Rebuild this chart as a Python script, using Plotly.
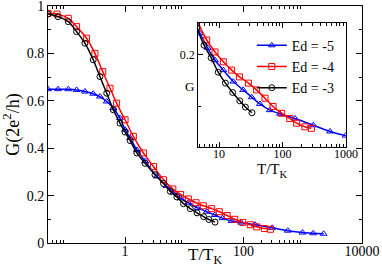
import plotly.graph_objects as go

# ---- data ----
T_m5 = [0.05, 0.074, 0.11, 0.152, 0.21, 0.29, 0.377, 0.49, 0.634, 0.82, 1.0, 1.22, 1.58, 2.18,
        3.44, 5.0, 6.6, 8.65, 11.7, 16.8, 24, 32.7, 44, 63, 91, 157, 305, 560, 990, 1500, 2250]
G_m5 = [0.649, 0.649, 0.649, 0.646, 0.639, 0.630, 0.618, 0.597, 0.569, 0.527, 0.478, 0.443, 0.393, 0.345,
        0.281, 0.241, 0.213, 0.189, 0.170, 0.148, 0.132, 0.118, 0.105, 0.093, 0.086, 0.077, 0.064, 0.052,
        0.044, 0.041, 0.039]

T_m4 = [0.05, 0.071, 0.11, 0.152, 0.224, 0.31, 0.42, 0.557, 0.72, 1.0, 1.38, 2.04, 3.02, 4.46,
        6.4, 8.65, 11.7, 15.8, 21, 29, 39, 53, 71, 97, 130, 167, 225, 285]
G_m4 = [0.969, 0.966, 0.948, 0.913, 0.864, 0.800, 0.723, 0.653, 0.590, 0.520, 0.450, 0.380, 0.323, 0.267,
        0.228, 0.205, 0.186, 0.170, 0.157, 0.145, 0.132, 0.116, 0.100, 0.087, 0.077, 0.068, 0.061, 0.058]

T_m3 = [0.05, 0.074, 0.11, 0.152, 0.21, 0.29, 0.377, 0.49, 0.634, 0.82, 1.0, 1.22, 1.58, 2.18,
        3.2, 4.46, 5.8, 7.5, 9.7, 12.6, 16.4, 21.2, 26, 33]
G_m3 = [0.966, 0.955, 0.934, 0.892, 0.843, 0.773, 0.702, 0.632, 0.562, 0.506, 0.468, 0.432, 0.380, 0.336,
        0.288, 0.251, 0.218, 0.194, 0.166, 0.145, 0.127, 0.111, 0.099, 0.088]

series = [
    ("Ed = -5", T_m5, G_m5, "#0000ff", "triangle-up-open"),
    ("Ed = -4", T_m4, G_m4, "#ff0000", "square-open"),
    ("Ed = -3", T_m3, G_m3, "#000000", "circle-open"),
]

main_major_x = [1, 100, 10000]
main_major_x_text = ["1", "100", "10000"]
main_minor_x = [0.06, 0.07, 0.08, 0.09, 2, 3, 4, 5, 6, 7, 8, 9, 200, 300, 400, 500, 600, 700, 800, 900]
main_major_y = [0, 0.2, 0.4, 0.6, 0.8, 1]
main_major_y_text = ["0", "0.2", "0.4", "0.6", "0.8", "1"]
main_minor_y = [0.1, 0.3, 0.5, 0.7, 0.9]

inset_major_x = [10, 100, 1000]
inset_major_x_text = ["10", "100", "1000"]
inset_minor_x = [5, 6, 7, 8, 9, 20, 30, 40, 50, 60, 70, 80, 90, 200, 300, 400, 500, 600, 700, 800, 900]
inset_major_y = [0.2]
inset_major_y_text = ["0.2"]
inset_minor_y = [0.1]

FONT = "Liberation Serif, Times New Roman, serif"

fig = go.Figure()
for name, T, G, col, sym in series:
    fig.add_trace(go.Scatter(x=T, y=G, name=name, mode="lines+markers",
                             line=dict(color=col, width=1.5, shape="spline", smoothing=0.8),
                             marker=dict(symbol=sym, size=6, color=col, line=dict(width=1, color=col)),
                             xaxis="x", yaxis="y", showlegend=True))
for name, T, G, col, sym in series:
    fig.add_trace(go.Scatter(x=T, y=G, name=name, mode="lines+markers",
                             line=dict(color=col, width=1.5, shape="spline", smoothing=0.8),
                             marker=dict(symbol=sym, size=6, color=col, line=dict(width=1, color=col)),
                             xaxis="x2", yaxis="y2", showlegend=False, cliponaxis=True))

axis_common = dict(showline=True, linecolor="black", linewidth=1, showgrid=False, zeroline=False,
                   ticks="inside", tickcolor="black", tickwidth=1, automargin=False,
                   ticklabeloverflow="allow")

fig.update_layout(
    width=382, height=268,
    margin=dict(l=48, r=20, t=6, b=25, autoexpand=False),
    paper_bgcolor="white", plot_bgcolor="white",
    font=dict(family=FONT, color="black", size=14),
    xaxis=dict(type="log", range=[-1.301, 4.0], domain=[0, 1], mirror="ticks",
               tickmode="array", tickvals=main_major_x, ticktext=main_major_x_text, ticklen=6,
               tickfont=dict(size=14), ticklabelstandoff=-5,
               minor=dict(tickmode="array", tickvals=main_minor_x, ticks="inside", ticklen=3,
                          tickcolor="black"),
               **axis_common),
    yaxis=dict(range=[0, 1], domain=[0, 1], mirror="ticks",
               tickmode="array", tickvals=main_major_y, ticktext=main_major_y_text, ticklen=6,
               tickfont=dict(size=14),
               minor=dict(tickmode="array", tickvals=main_minor_y, ticks="inside", ticklen=3,
                          tickcolor="black"),
               title=dict(text="G(2e<sup>2</sup>/h)", font=dict(size=18), standoff=4),
               **axis_common),
    xaxis2=dict(type="log", range=[0.67, 3.0], domain=[0.478, 0.949], anchor="y2", mirror="ticks",
                tickmode="array", tickvals=inset_major_x, ticktext=inset_major_x_text, ticklen=5,
                tickfont=dict(size=12), ticklabelstandoff=-4,
                minor=dict(tickmode="array", tickvals=inset_minor_x, ticks="inside", ticklen=3,
                           tickcolor="black"),
                title=dict(text="T/T<sub>K</sub>", font=dict(size=15), standoff=0),
                **axis_common),
    yaxis2=dict(range=[0.0221, 0.2606], domain=[0.405, 0.928], anchor="x2", mirror=True,
                tickmode="array", tickvals=inset_major_y, ticktext=inset_major_y_text, ticklen=5,
                tickfont=dict(size=12),
                minor=dict(tickmode="array", tickvals=inset_minor_y, ticks="inside", ticklen=3,
                           tickcolor="black"),
                **axis_common),
    legend=dict(x=0.649, y=0.90, xanchor="left", yanchor="top", bgcolor="rgba(0,0,0,0)",
                font=dict(size=14), itemwidth=30, tracegroupgap=0),
    annotations=[
        dict(text="T/T<sub>K</sub>", xref="paper", yref="paper", x=0.5, y=0, yshift=0,
             xanchor="center", yanchor="top", showarrow=False, font=dict(size=17)),
        dict(text="G", xref="paper", yref="paper", x=0.471, y=0.662,
             xanchor="right", yanchor="middle", showarrow=False, font=dict(size=13)),
    ],
)

fig.write_html("out.html", config={"displayModeBar": False},
               post_script="document.body.style.margin='0';document.body.style.overflow='hidden';")
